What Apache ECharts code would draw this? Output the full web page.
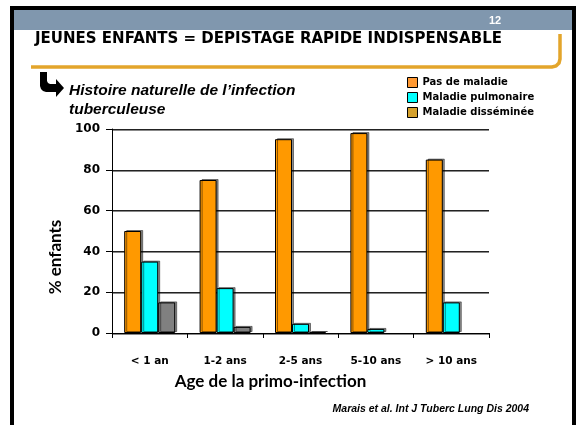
<!DOCTYPE html>
<html>
<head>
<meta charset="utf-8">
<script src="https://cdn.jsdelivr.net/npm/echarts@6/dist/echarts.min.js"></script>
<style>
  html, body { margin: 0; padding: 0; background: #fff; }
  #chart { width: 579px; height: 425px; }
</style>
</head>
<body>
<div id="chart"></div>
<script>
// données
const categories = ['< 1 an', '1-2 ans', '2-5 ans', '5-10 ans', '> 10 ans']
const pasDeMaladie = [50, 75, 95, 98, 85]
const maladiePulmonaire = [35, 22, 4.5, 2, 15]
const maladieDisseminee = [15, 3, 0.5, 0, 0]
const seriesNames = ['Pas de maladie', 'Maladie pulmonaire', 'Maladie disséminée']
const yTicks = [0, 20, 40, 60, 80, 100]

const comic = 'DejaVu Sans'
const barColors = ['#FF9900', '#00FFFF', '#808080']
const legendColors = ['#FF9933', '#00FFFF', '#D4A02C']

const chart = echarts.init(document.getElementById('chart'))

function barSeries(name, data, i) {
  return {
    name: name,
    type: 'bar',
    // une barre à 0 ne doit pas laisser de trait
    data: data.map(v => v === 0
      ? { value: 0, itemStyle: { borderWidth: 0, shadowColor: 'transparent' } }
      : v),
    barWidth: 17,
    barGap: '0%',
    itemStyle: {
      color: barColors[i],
      borderColor: '#000',
      borderWidth: 1,
      shadowColor: 'rgba(0,0,0,0.45)',
      shadowOffsetX: 2,
      shadowOffsetY: -1
    }
  }
}

chart.setOption({
  animation: false,
  grid: { left: 112, right: 90, top: 129, bottom: 92 },
  legend: {
    orient: 'vertical',
    left: 402,
    top: 72,
    itemWidth: 10,
    itemHeight: 10,
    itemGap: 4,
    icon: 'rect',
    textStyle: { fontFamily: comic, fontWeight: 'bold', fontSize: 10, color: '#000' },
    data: seriesNames.map((n, i) => ({
      name: n,
      itemStyle: { color: legendColors[i], borderColor: '#000', borderWidth: 1, shadowColor: 'transparent', shadowOffsetX: 0, shadowOffsetY: 0 }
    }))
  },
  xAxis: {
    type: 'category',
    data: categories,
    name: 'Age de la primo-infection',
    nameLocation: 'middle',
    nameGap: 40,
    nameTextStyle: { fontFamily: 'Lato', fontWeight: 'bold', fontSize: 17, color: '#000', padding: [0, 60, 0, 0] },
    axisLine: { lineStyle: { color: '#000', width: 1 } },
    axisTick: { show: true, length: 5, lineStyle: { color: '#000' } },
    axisLabel: { fontFamily: comic, fontWeight: 'bold', fontSize: 10.5, color: '#000', margin: 23 }
  },
  yAxis: {
    type: 'value',
    min: 0,
    max: 100,
    interval: 20,
    name: '% enfants',
    nameLocation: 'middle',
    nameGap: 43,
    nameRotate: 90,
    nameTextStyle: { fontFamily: 'Lato', fontWeight: 'bold', fontSize: 17, color: '#000', padding: [0, 52, 0, 0] },
    axisLine: { show: true, lineStyle: { color: '#000', width: 1 } },
    axisTick: { show: true, length: 6, lineStyle: { color: '#000' } },
    axisLabel: {
      fontFamily: comic, fontWeight: 'bold', fontSize: 12, color: '#000', margin: 12,
      formatter: v => yTicks.includes(v) ? String(v) : ''
    },
    splitLine: {
      show: true,
      lineStyle: { color: '#222', width: 1, shadowColor: '#888', shadowOffsetY: 1, shadowBlur: 0 }
    }
  },
  series: [
    barSeries(seriesNames[0], pasDeMaladie, 0),
    barSeries(seriesNames[1], maladiePulmonaire, 1),
    barSeries(seriesNames[2], maladieDisseminee, 2)
  ],
  graphic: [
    // cadre noir
    { type: 'rect', shape: { x: 12, y: 8, width: 562, height: 430 }, style: { fill: 'none', stroke: '#000', lineWidth: 4 }, silent: true },
    // bandeau
    { type: 'rect', shape: { x: 14, y: 10, width: 558, height: 20 }, style: { fill: '#8097AE' }, silent: true },
    { type: 'text', x: 495, y: 21, style: { text: '12', fill: '#fff', font: 'bold 11px "Liberation Sans"', textAlign: 'center', textVerticalAlign: 'middle' } },
    // titre
    { type: 'text', x: 35, y: 39, style: { text: 'JEUNES ENFANTS = DEPISTAGE RAPIDE INDISPENSABLE', fill: '#000', font: 'bold 15px "DejaVu Sans"', textVerticalAlign: 'middle' } },
    // accolade orange
    { type: 'polyline', shape: { points: [[31, 67], [552, 67], [556, 66], [559, 63], [560, 59], [560, 34]] }, style: { fill: 'none', stroke: '#E3A52B', lineWidth: 3.5 }, silent: true },
    // flèche
    { type: 'polygon', shape: { points: [[40, 72], [40, 86], [41, 89], [43, 91], [46, 92], [56, 92], [56, 97], [64, 88], [56, 79], [56, 84], [50, 84], [48, 83], [47, 81], [47, 72]] }, style: { fill: '#000' }, silent: true },
    // sous-titre
    { type: 'text', x: 69, y: 91, style: { text: 'Histoire naturelle de l\u2019infection', fill: '#000', font: 'italic bold 15.5px "Liberation Sans"', textVerticalAlign: 'middle' } },
    { type: 'text', x: 69, y: 110, style: { text: 'tuberculeuse', fill: '#000', font: 'italic bold 15.5px "Liberation Sans"', textVerticalAlign: 'middle' } },
    // référence
    { type: 'text', x: 529, y: 409, style: { text: 'Marais et al. Int J Tuberc Lung Dis 2004', fill: '#000', font: 'italic bold 10.5px "Liberation Sans"', textAlign: 'right', textVerticalAlign: 'middle' } }
  ]
})
</script>
</body>
</html>
